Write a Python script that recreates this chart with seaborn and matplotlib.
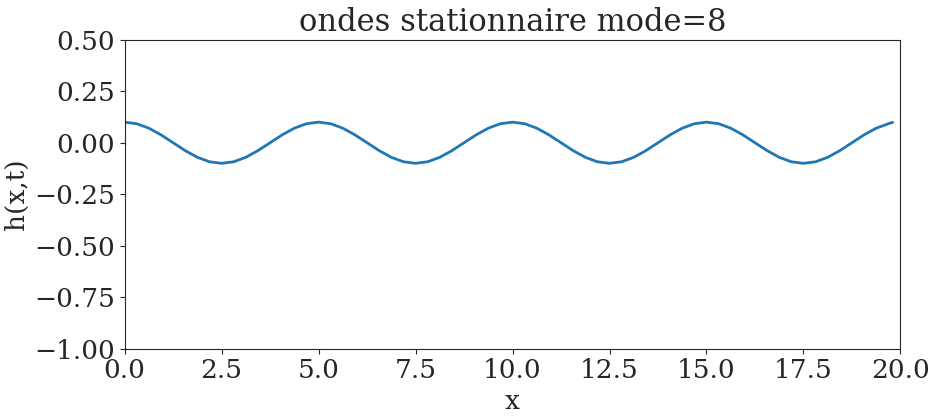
import numpy as np
import pandas as pd
import matplotlib
matplotlib.use("Agg")
import matplotlib.pyplot as plt
import seaborn as sns

x_step = 0.3125
h_values = [
    0.1, 0.0924, 0.0707, 0.0383, 0.0, -0.0383, -0.0707, -0.0924,
    -0.1, -0.0924, -0.0707, -0.0383, 0.0, 0.0383, 0.0707, 0.0924,
    0.1, 0.0924, 0.0707, 0.0383, 0.0, -0.0383, -0.0707, -0.0924,
    -0.1, -0.0924, -0.0707, -0.0383, 0.0, 0.0383, 0.0707, 0.0924,
    0.1, 0.0924, 0.0707, 0.0383, 0.0, -0.0383, -0.0707, -0.0924,
    -0.1, -0.0924, -0.0707, -0.0383, 0.0, 0.0383, 0.0707, 0.0924,
    0.1, 0.0924, 0.0707, 0.0383, 0.0, -0.0383, -0.0707, -0.0924,
    -0.1, -0.0924, -0.0707, -0.0383, 0.0, 0.0383, 0.0707, 0.0924,
    0.099,
]
x_values = list(np.arange(64) * x_step) + [19.8]

df = pd.DataFrame({"x": x_values, "h": h_values})

sns.set_style("ticks")
plt.rcParams['font.family'] = ['DejaVu Serif']
plt.rcParams['font.size'] = 19

fig, ax = plt.subplots(figsize=(9.37, 4.19), dpi=100)
sns.lineplot(data=df, x="x", y="h", ax=ax, color="#1f77b4", linewidth=2)
ax.set_xlim(0, 20)
ax.set_ylim(-1, 0.5)
ax.set_xticks([0, 2.5, 5, 7.5, 10, 12.5, 15, 17.5, 20])
ax.set_xticklabels(["0.0", "2.5", "5.0", "7.5", "10.0", "12.5", "15.0", "17.5", "20.0"])
ax.set_yticks([-1, -0.75, -0.5, -0.25, 0, 0.25, 0.5])
ax.set_yticklabels(["\u22121.00", "\u22120.75", "\u22120.50", "\u22120.25", "0.00", "0.25", "0.50"])
ax.set_xlabel("x", fontsize=19)
ax.set_ylabel("h(x,t)", fontsize=19)
ax.set_title("ondes stationnaire mode=8", fontsize=22)
for s in ax.spines.values():
    s.set_visible(True)
fig.subplots_adjust(left=0.133, right=0.961, top=0.905, bottom=0.168)
fig.savefig("out.png", dpi=100)
